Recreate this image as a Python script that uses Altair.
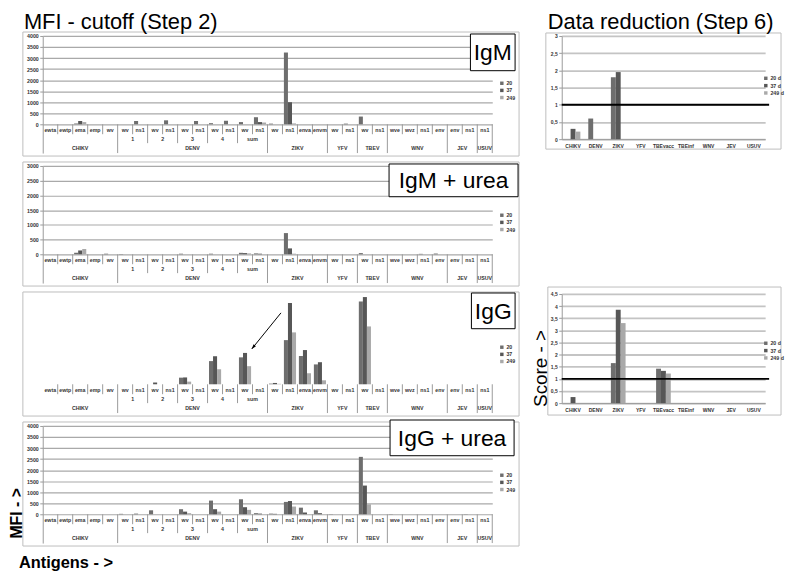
import altair as alt
import pandas as pd

FONT = "Liberation Sans"

series = ["20", "37", "249"]
series_days = ["20 d", "37 d", "249 d"]
series_colors = ["#6e6e6e", "#575757", "#a9a9a9"]

leaf_group = (["CHIKV"] * 5 + ["DENV"] * 10 + ["ZIKV"] * 4 + ["YFV"] * 2
              + ["TBEV"] * 2 + ["WNV"] * 4 + ["JEV"] * 2 + ["USUV"])
leaf_sub = [""] * 5 + ["1", "1", "2", "2", "3", "3", "4", "4", "sum", "sum"] + [""] * 15
leaf_ant = ["ewta", "ewtp", "ema", "emp", "wv",
            "wv", "ns1", "wv", "ns1", "wv", "ns1", "wv", "ns1", "wv", "ns1",
            "wv", "ns1", "enva", "envm",
            "wv", "ns1",
            "wv", "ns1",
            "wve", "wvz", "ns1", "env",
            "env", "ns1",
            "ns1"]

# MFI values (30 antigens, order as leaf_ant)
igm_20 = [0, 0, 40, 0, 0, 0, 150, 0, 180, 0, 150, 50, 160, 100, 320, 30, 3250, 0, 0, 0, 30, 350, 0, 0, 0, 0, 0, 0, 0, 0]
igm_37 = [0, 0, 150, 0, 0, 0, 0, 0, 0, 0, 0, 0, 0, 0, 100, 0, 1000, 0, 0, 0, 0, 0, 0, 0, 0, 0, 0, 0, 0, 0]
igm_249 = [0, 0, 100, 0, 0, 0, 0, 0, 0, 0, 0, 0, 0, 0, 80, 0, 40, 0, 0, 0, 0, 0, 0, 0, 0, 0, 0, 0, 0, 0]

igmu_20 = [0, 0, 50, 0, 20, 10, 0, 0, 0, 20, 0, 20, 0, 50, 30, 0, 720, 0, 0, 0, 0, 40, 0, 0, 0, 15, 25, 0, 0, 0]
igmu_37 = [0, 0, 130, 0, 0, 0, 0, 0, 0, 0, 0, 0, 0, 40, 20, 0, 200, 0, 0, 0, 0, 0, 0, 0, 0, 0, 0, 0, 0, 0]
igmu_249 = [0, 0, 180, 0, 0, 0, 0, 0, 0, 0, 0, 0, 0, 30, 0, 0, 20, 0, 0, 0, 0, 0, 0, 0, 0, 0, 0, 0, 0, 0]

igg_20 = [0, 0, 0, 0, 0, 0, 0, 0, 0, 300, 0, 1050, 0, 1220, 0, 30, 2000, 1280, 900, 0, 0, 3750, 0, 0, 0, 0, 0, 0, 0, 0]
igg_37 = [0, 0, 0, 0, 0, 0, 0, 80, 0, 310, 0, 1270, 0, 1420, 0, 60, 3680, 1550, 1000, 0, 0, 3950, 0, 0, 0, 0, 0, 0, 0, 0]
igg_249 = [0, 0, 0, 0, 0, 0, 0, 0, 0, 120, 0, 680, 0, 820, 0, 20, 2350, 500, 180, 0, 0, 2620, 0, 0, 0, 0, 0, 0, 0, 0]

iggu_20 = [0, 0, 0, 0, 0, 20, 30, 180, 0, 230, 0, 620, 0, 680, 50, 30, 560, 300, 180, 10, 0, 2600, 0, 10, 0, 0, 0, 0, 10, 0]
iggu_37 = [0, 0, 0, 0, 0, 0, 0, 0, 0, 120, 0, 230, 0, 320, 30, 20, 600, 80, 50, 0, 0, 1300, 0, 0, 0, 0, 0, 0, 0, 0]
iggu_249 = [0, 0, 0, 0, 0, 0, 0, 0, 0, 50, 0, 120, 0, 200, 0, 0, 350, 0, 0, 0, 0, 450, 0, 0, 0, 0, 0, 0, 0, 0]

# Scores (data reduction)
score_cats = ["CHIKV", "DENV", "ZIKV", "YFV", "TBEvacc", "TBEinf", "WNV", "JEV", "USUV"]
igm_score_20 = [0, 0.6, 1.8, 0, 0, 0, 0, 0, 0]
igm_score_37 = [0.3, 0, 1.95, 0, 0, 0, 0, 0, 0]
igm_score_249 = [0.22, 0, 0, 0, 0, 0, 0, 0, 0]
igg_score_20 = [0, 0, 1.65, 0, 1.42, 0, 0, 0, 0]
igg_score_37 = [0.25, 0, 3.85, 0, 1.33, 0, 0, 0, 0]
igg_score_249 = [0, 0, 3.3, 0, 1.22, 0, 0, 0, 0]
score_cutoff = 1

# arrow annotation in IgG panel (antigen index, MFI)
arrow_from = (15.9, 3234)
arrow_to = (13.95, 1600)

# ---------------------------------------------------------------
W, H, Z = 453, 118, 89
N = len(leaf_ant)
BAR = 0.27
OFF = (1 - 3 * BAR) / 2
xscale = alt.Scale(domain=[0, N], nice=False, zero=False)
one = pd.DataFrame({"k": [0]})
GRAY = "#9a9a9a"
LBL = dict(fontSize=5.3, fontWeight="bold", color="#333333", baseline="middle", align="center")


def runs(keys):
    out = []
    start = 0
    for i in range(1, len(keys) + 1):
        if i == len(keys) or keys[i] != keys[start]:
            out.append((keys[start], start, i))
            start = i
    return out


def table_layers():
    leaf_l, sub_l, grp_l = [], [], []
    for i in range(1, N + 1):
        if i == N or leaf_group[i] != leaf_group[i - 1]:
            grp_l.append(i)
        elif leaf_sub[i] != leaf_sub[i - 1]:
            sub_l.append(i)
        else:
            leaf_l.append(i)
    xs = lambda f: alt.X(f, scale=xscale, axis=None)
    layers = []
    for lines, bottom in [(leaf_l, Z + 10), (sub_l, Z + 19), (grp_l, H)]:
        layers.append(alt.Chart(pd.DataFrame({"x": lines})).mark_rule(color=GRAY, strokeWidth=1).encode(
            x=xs("x:Q"), y=alt.value(Z), y2=alt.value(bottom)))
    row1 = pd.DataFrame({"x": [i + 0.5 for i in range(N)], "t": leaf_ant})
    sub_runs = [(k, s, e) for k, s, e in runs([g + "|" + s for g, s in zip(leaf_group, leaf_sub)]) if not k.endswith("|")]
    row2 = pd.DataFrame({"x": [(s + e) / 2 for _, s, e in sub_runs], "t": [k.split("|")[1] for k, _, _ in sub_runs]})
    grp_runs = runs(leaf_group)
    row3 = pd.DataFrame({"x": [(s + e) / 2 for _, s, e in grp_runs], "t": [k for k, _, _ in grp_runs]})
    for df, yy in [(row1, Z + 5.5), (row2, Z + 14.5), (row3, Z + 23.5)]:
        layers.append(alt.Chart(df).mark_text(**LBL).encode(x=xs("x:Q"), y=alt.value(yy), text="t:N"))
    return layers


def bar_df(vals, names, cats=None):
    rows = []
    for k, s in enumerate(names):
        for i, v in enumerate(vals[k]):
            if v > 0:
                r = {"series": s, "v": v, "base": 0}
                if cats is None:
                    r["x0"] = i + OFF + k * BAR
                    r["x1"] = i + OFF + (k + 1) * BAR
                else:
                    r["cat"] = cats[i]
                rows.append(r)
    return pd.DataFrame(rows)


def legend(lx, ly, names_font=5.3, row_pad=1.2):
    return alt.Legend(orient="none", legendX=lx, legendY=ly, title=None, symbolType="square",
                      symbolSize=12, symbolStrokeWidth=0, labelFontSize=names_font, labelFontWeight="bold",
                      labelColor="#333333", labelOffset=2, rowPadding=row_pad, padding=0)


def box(x1, x2, y1, y2, stroke="#bdbdbd", fill="white", fo=0.0):
    return alt.Chart(one).mark_rect(stroke=stroke, strokeWidth=1, fill=fill, fillOpacity=fo).encode(
        x=alt.value(x1), x2=alt.value(x2), y=alt.value(y1), y2=alt.value(y2))


def text(t, x, y, size, **kw):
    return alt.Chart(one).mark_text(fontSize=size, **kw).encode(x=alt.value(x), y=alt.value(y), text=alt.value(t))


def mfi_panel(vals, ymax, label, lb, legend_y, extra=None):
    ymin = -ymax * (H - Z) / Z
    ys = alt.Scale(domain=[ymin, ymax], nice=False, zero=False)
    bars = alt.Chart(bar_df(vals, series)).mark_bar(strokeWidth=0).encode(
        x=alt.X("x0:Q", scale=xscale, axis=None),
        x2="x1:Q",
        y=alt.Y("v:Q", scale=ys, title=None, axis=alt.Axis(
            values=list(range(0, ymax + 1, 500)), format="d", grid=True, gridColor="#a9a9a9", gridWidth=1.2,
            domainColor=GRAY, tickColor=GRAY, tickSize=3, labelFontSize=5.3, labelFontWeight="bold",
            labelColor="#333333", labelPadding=1.5)),
        y2="base:Q",
        color=alt.Color("series:N", scale=alt.Scale(domain=series, range=series_colors),
                        legend=legend(460, legend_y)),
    )
    layers = [box(-20, 480, -4, H + 3), bars] + table_layers()
    x1, x2, y1, y2 = lb
    layers += [box(x1, x2, y1, y2, stroke="black", fo=1.0),
               text(label, (x1 + x2) / 2, (y1 + y2) / 2 + 1, 23, align="center", baseline="middle", color="black")]
    if extra:
        layers += extra(ys)
    return alt.layer(*layers).properties(width=W, height=H)


def arrow(ys):
    df = pd.DataFrame({"x": [arrow_from[0]], "y": [arrow_from[1]], "x2": [arrow_to[0]], "y2": [arrow_to[1]]})
    line = alt.Chart(df).mark_rule(color="black", strokeWidth=1).encode(
        x=alt.X("x:Q", scale=xscale, axis=None), y=alt.Y("y:Q", scale=ys, axis=None), x2="x2:Q", y2="y2:Q")
    head = alt.Chart(df).mark_point(shape="M0,0L-0.5,1.5L0.5,1.5Z", filled=True, color="black", opacity=1,
                                    size=40, angle=219).encode(
        x=alt.X("x2:Q", scale=xscale, axis=None), y=alt.Y("y2:Q", scale=ys, axis=None))
    return [line, head]


p1 = mfi_panel([igm_20, igm_37, igm_249], 4000, "IgM", (431, 476, -2, 35), 45)
p1 = alt.layer(p1, text("MFI - cutoff (Step 2)", -19, -7, 22, align="left", baseline="alphabetic", color="black"))
p2 = mfi_panel([igmu_20, igmu_37, igmu_249], 3000, "IgM + urea", (349, 479, -2, 31), 47)
p3 = mfi_panel([igg_20, igg_37, igg_249], 4000, "IgG", (432, 476, -3, 33), 49, extra=arrow)
p4 = mfi_panel([iggu_20, iggu_37, iggu_249], 4000, "IgG + urea", (350, 475, -6, 30), 47)
p4 = alt.layer(
    p4,
    text("MFI - >", -21.2, 88, 16, angle=270, align="center", baseline="alphabetic", fontWeight="bold", color="black"),
    text("Antigens - >", -24, 143, 16.5, align="left", baseline="alphabetic", fontWeight="bold", color="black"),
)

WR = 205


def score_panel(vals, ymax, height, legend_y, bx, extra=()):
    df = bar_df(vals, series_days, cats=score_cats)
    ys = alt.Scale(domain=[0, ymax], nice=False, zero=True)
    ticks = [i * 0.5 for i in range(int(ymax / 0.5) + 1)]
    ydef = alt.Y("v:Q", scale=ys, title=None, axis=alt.Axis(
        values=ticks, format=".1~f", labelExpr="replace(datum.label, '.', ',')", grid=True,
        gridColor="#c4c4c4", gridWidth=1.8, domainColor=GRAY, tickColor=GRAY, tickSize=3,
        labelFontSize=5, labelFontWeight="bold", labelColor="#333333", labelPadding=1.5))
    bars = alt.Chart(df).mark_bar(strokeWidth=0).encode(
        x=alt.X("cat:N", scale=alt.Scale(domain=score_cats, paddingInner=0.35, paddingOuter=0.175), title=None,
                axis=alt.Axis(labelAngle=0, ticks=False, domainColor=GRAY, labelFontSize=5, labelFontWeight="bold",
                              labelColor="#333333", labelPadding=4, grid=False)),
        xOffset=alt.XOffset("series:N", scale=alt.Scale(domain=series_days, paddingInner=0, paddingOuter=0)),
        y=ydef,
        y2="base:Q",
        color=alt.Color("series:N", scale=alt.Scale(domain=series_days, range=series_colors),
                        legend=legend(203, legend_y, row_pad=1.4)),
    )
    cut = alt.Chart(pd.DataFrame({"v": [score_cutoff]})).mark_rule(color="black", strokeWidth=2).encode(
        y=ydef, x=alt.value(0), x2=alt.value(WR + 4))
    x1, x2, y1, y2 = bx
    return alt.layer(box(x1, x2, y1, y2), bars, cut, *extra).properties(width=WR, height=height)


r1 = score_panel([igm_score_20, igm_score_37, igm_score_249], 3, 104, 40, (-16, 221, -3, 114),
                 extra=[text("Data reduction (Step 6)", -14, -7, 22, align="left", baseline="alphabetic", color="black")])
r2 = score_panel([igg_score_20, igg_score_37, igg_score_249], 4.5, 110, 47, (-14, 221, -7, 122),
                 extra=[text("Score - >", -15, 75, 19, angle=270, align="center", baseline="alphabetic", color="black")])

left = alt.vconcat(p1, p2, p3, p4, spacing=13, bounds="flush").resolve_scale(color="independent")
right = alt.vconcat(r1, r2, spacing=156, bounds="flush").resolve_scale(color="independent")
chart = (alt.hconcat(left, right, spacing=11)
         .resolve_scale(color="independent")
         .properties(padding=0)
         .configure(font=FONT)
         .configure_view(stroke="transparent"))

chart.save("out.html", embed_options={"renderer": "svg", "actions": False})
